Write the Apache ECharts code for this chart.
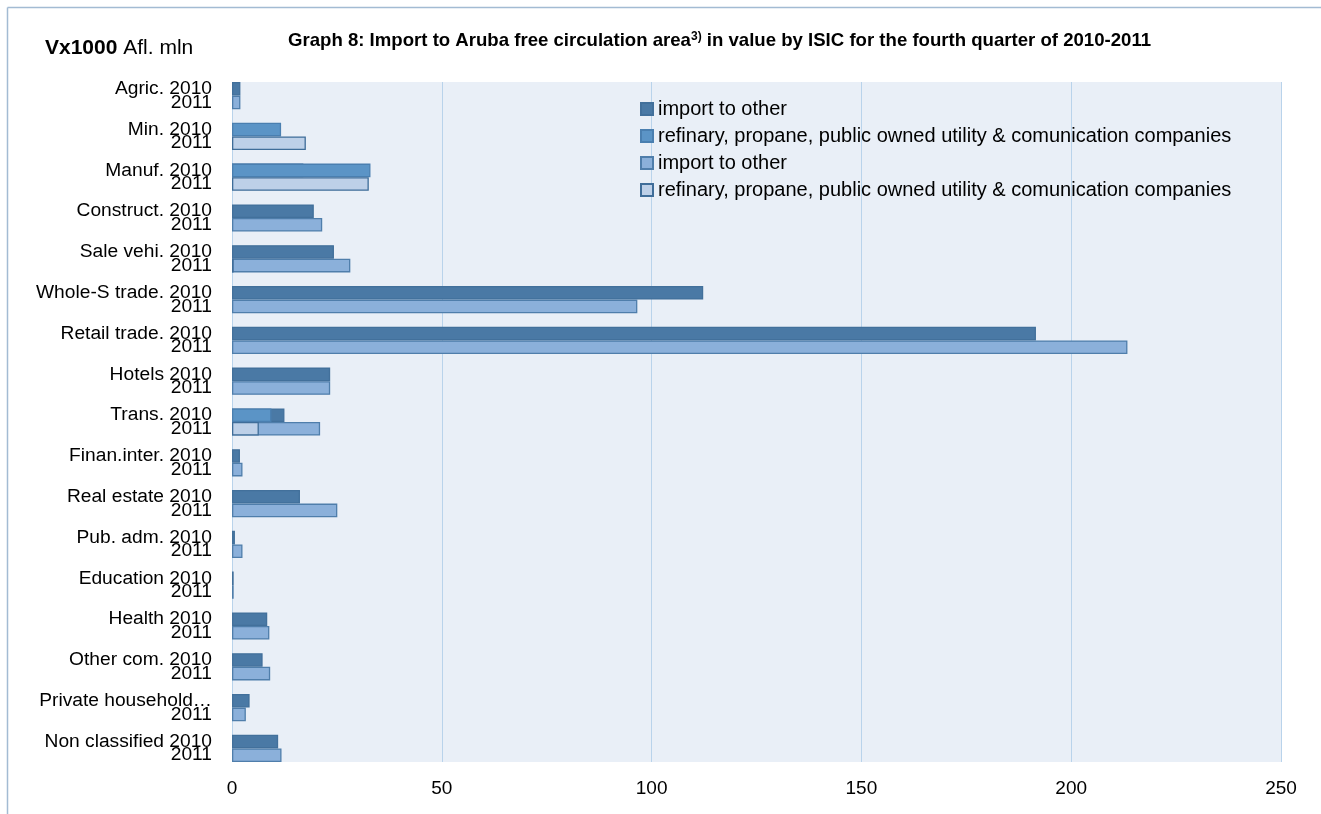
<!DOCTYPE html>
<html>
<head>
<meta charset="utf-8">
<script src="https://cdn.jsdelivr.net/npm/echarts@6/dist/echarts.min.js"></script>
<style>
html,body{margin:0;padding:0;background:#fff;}
#c{width:1321px;height:814px;}
</style>
</head>
<body>
<div id="c"></div>
<script>
// ---- data ----
const labels2010 = ['Agric. 2010', 'Min. 2010', 'Manuf. 2010', 'Construct. 2010', 'Sale vehi. 2010',
  'Whole-S trade. 2010', 'Retail trade. 2010', 'Hotels 2010', 'Trans. 2010', 'Finan.inter. 2010',
  'Real estate 2010', 'Pub. adm. 2010', 'Education 2010', 'Health 2010', 'Other com. 2010',
  'Private household\u2026', 'Non classified 2010'];
const label2011 = '2011';
const seriesNames = ['import to other', 'refinary, propane, public owned utility & comunication companies'];
// 2010 values
const importOther2010 = [2.0, null, 17.0, 19.5, 24.3, 112.3, 191.6, 23.4, 12.5, 1.9, 16.2, 0.7, 0.4, 8.4, 7.3, 4.2, 11.0];
const refinary2010    = [null, 11.7, 33.0, null, null, null, null, null, 9.4, null, null, null, null, null, null, null, null];
// 2011 values
const importOther2011 = [2.0, null, null, 21.5, 28.2, 96.6, 213.4, 23.4, 21.0, 2.5, 25.1, 2.5, 0.4, 8.9, 9.1, 3.3, 11.8];
const refinary2011    = [null, 17.6, 32.6, null, 0.4, null, null, null, 6.4, null, null, null, null, null, null, null, null];
const xTicks = [0, 50, 100, 150, 200, 250];

// ---- build row layout: 2010 row, 2011 row, blank spacer ----
const rowIds = [], rowLabels = [];
labels2010.forEach((l, i) => {
  rowIds.push('r' + rowIds.length); rowLabels.push(l);
  rowIds.push('r' + rowIds.length); rowLabels.push(label2011);
  if (i < labels2010.length - 1) { rowIds.push('r' + rowIds.length); rowLabels.push(''); }
});
function expand(arr, offset) {
  const out = rowIds.map(() => null);
  arr.forEach((v, i) => { out[i * 3 + offset] = v; });
  return out;
}

const FONT = 'Liberation Sans, Arial, sans-serif';
const chart = echarts.init(document.getElementById('c'), null, {renderer: 'canvas'});
const colors = ['#4a79a5', '#5b94c6', '#8bb0da', '#bdd0e8'];
const borders = ['#42709b', '#4a7fb0', '#4f7eab', '#3f6d99'];
function mk(name, data, i) {
  return {
    name: name, type: 'bar', data: data,
    barGap: '-100%', barCategoryGap: '0%',
    itemStyle: {color: colors[i], borderColor: borders[i], borderWidth: 1.3},
    emphasis: {disabled: true},
    animation: false
  };
}
chart.setOption({
  animation: false,
  backgroundColor: '#ffffff',
  title: [
    {
      text: 'Graph 8: Import to Aruba free circulation area{sup|3)} in value by ISIC for the fourth quarter of 2010-2011',
      left: 283, top: 26,
      textStyle: {
        fontFamily: FONT,
        fontWeight: 'bold', fontSize: 18.6, color: '#000',
        rich: {sup: {fontSize: 12, fontWeight: 'bold', verticalAlign: 'top', padding: [0, 0, 8, 0],
          fontFamily: FONT}}
      }
    },
    {
      text: '{b|Vx1000} Afl. mln',
      left: 40, top: 33,
      textStyle: {fontFamily: FONT, fontWeight: 'normal', fontSize: 21, color: '#000',
        rich: {b: {fontWeight: 'bold', fontSize: 21, fontFamily: FONT}}}
    }
  ],
  legend: {
    orient: 'vertical', left: 635, top: 93,
    itemWidth: 12, itemHeight: 12, itemGap: 5,
    icon: 'rect',
    textStyle: {fontFamily: FONT, fontSize: 20, color: '#000', lineHeight: 22},
    data: [seriesNames[0], seriesNames[1], seriesNames[0] + ' ', seriesNames[1] + ' ']
  },
  graphic: [
    {type: 'line', shape: {x1: 7.5, y1: 7.5, x2: 7.5, y2: 814}, style: {stroke: '#a3bbd3', lineWidth: 1.5}, silent: true},
    {type: 'line', shape: {x1: 7.5, y1: 7.5, x2: 1321, y2: 7.5}, style: {stroke: '#a3bbd3', lineWidth: 1.5}, silent: true}
  ],
  grid: {left: 232, right: 40, top: 82, bottom: 52, show: true, backgroundColor: '#e9eff7', borderWidth: 0, containLabel: false},
  xAxis: {
    type: 'value', min: xTicks[0], max: xTicks[xTicks.length - 1], interval: xTicks[1] - xTicks[0],
    axisLine: {show: false}, axisTick: {show: false},
    axisLabel: {fontFamily: FONT, fontSize: 19, color: '#000', margin: 17},
    splitLine: {show: true, lineStyle: {color: '#b9d3eb', width: 1}}
  },
  yAxis: {
    type: 'category', inverse: true, data: rowIds,
    axisLine: {show: false}, axisTick: {show: false},
    axisLabel: {interval: 0, fontFamily: FONT, fontSize: 19.2, color: '#000', margin: 20,
      formatter: (v, idx) => rowLabels[idx]},
    splitLine: {show: false}
  },
  series: [
    mk(seriesNames[0], expand(importOther2010, 0), 0),
    mk(seriesNames[1], expand(refinary2010, 0), 1),
    mk(seriesNames[0] + ' ', expand(importOther2011, 1), 2),
    mk(seriesNames[1] + ' ', expand(refinary2011, 1), 3)
  ]
});
</script>
</body>
</html>
